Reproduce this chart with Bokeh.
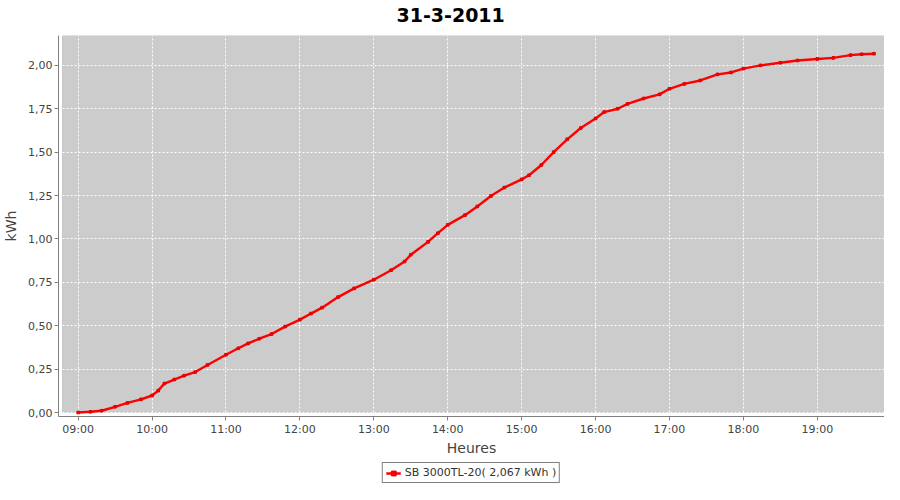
import pandas as pd
from bokeh.plotting import figure
from bokeh.layouts import column
from bokeh.models import (FixedTicker, DatetimeTickFormatter, BoxAnnotation, Legend,
                          LegendItem, Range1d, ColumnDataSource, Title)
from bokeh.embed import file_html
from bokeh.resources import INLINE

title_text = "31-3-2011"
x_label = "Heures"
y_label = "kWh"
series_name = "SB 3000TL-20( 2,067 kWh )"
day = "2011-03-31"

times = ["09:00", "09:10", "09:19", "09:30", "09:40", "09:51", "10:00", "10:05", "10:10",
         "10:18", "10:26", "10:35", "10:45", "11:00", "11:10", "11:18", "11:27", "11:37",
         "11:48", "12:00", "12:09", "12:18", "12:31", "12:44", "13:00", "13:14", "13:25",
         "13:30", "13:44", "13:52", "14:00", "14:14", "14:24", "14:35", "14:46", "15:00",
         "15:06", "15:16", "15:26", "15:37", "15:48", "16:00", "16:07", "16:18", "16:26",
         "16:39", "16:52", "17:00", "17:12", "17:25", "17:39", "17:50", "18:00", "18:14",
         "18:30", "18:44", "19:00", "19:13", "19:27", "19:36", "19:46"]
kwh = [0.000, 0.004, 0.010, 0.033, 0.055, 0.076, 0.098, 0.126, 0.167,
       0.190, 0.212, 0.233, 0.274, 0.333, 0.370, 0.398, 0.425, 0.452,
       0.495, 0.535, 0.570, 0.604, 0.665, 0.715, 0.765, 0.820, 0.870,
       0.909, 0.983, 1.033, 1.081, 1.137, 1.187, 1.247, 1.296, 1.343,
       1.367, 1.426, 1.500, 1.574, 1.639, 1.694, 1.731, 1.750, 1.778,
       1.809, 1.833, 1.865, 1.893, 1.913, 1.948, 1.959, 1.981, 2.000,
       2.015, 2.028, 2.037, 2.043, 2.059, 2.064, 2.067]

y_ticks = [0.0, 0.25, 0.5, 0.75, 1.0, 1.25, 1.5, 1.75, 2.0]
y_tick_labels = ["0,00", "0,25", "0,50", "0,75", "1,00", "1,25", "1,50", "1,75", "2,00"]
x_tick_labels = ["09:00", "10:00", "11:00", "12:00", "13:00", "14:00", "15:00", "16:00",
                 "17:00", "18:00", "19:00"]


def ms(s):
    return pd.Timestamp(f"{day} {s}").value / 1e6


x_ms = [ms(s) for s in times]
x_ticks = [ms(s) for s in x_tick_labels]

x_start = ms("08:44:02")
x_area_left = ms("08:47:17")
x_end = ms("19:54:33")
y_start = -0.023
y_end = 2.172

FONT = "DejaVu Sans"
LINE_COLOR = "#FF0000"

p = figure(width=884, height=458, output_backend="svg", toolbar_location=None,
           x_axis_type="datetime",
           x_range=Range1d(x_start, x_end), y_range=Range1d(y_start, y_end),
           min_border_left=49, min_border_right=0, min_border_top=0, min_border_bottom=0,
           background_fill_color="white", border_fill_color="white")
p.outline_line_color = None

area = BoxAnnotation(left=x_area_left, right=x_end, bottom=0, top=y_end,
                     fill_color="#CCCCCC", fill_alpha=1.0,
                     line_color="#808080", line_width=1, level="image")
p.add_layout(area)

src = ColumnDataSource(data=dict(x=x_ms, y=kwh))
p.line("x", "y", source=src, line_color=LINE_COLOR, line_width=2.4)
p.scatter("x", "y", source=src, marker="square", size=2.6,
          fill_color=LINE_COLOR, line_color="#E00000")

# Title: a blank spacer next to the frame, then the real title above it
p.title = None
p.add_layout(Title(text=" ", text_font=FONT, text_font_size="6px", standoff=0), "above")
p.add_layout(Title(text=title_text, align="left", offset=338, text_font=FONT,
                   text_font_size="19px", text_font_style="bold", text_color="#000000"),
             "above")

# Grids
for g in (p.xgrid, p.ygrid):
    g.grid_line_color = "white"
    g.grid_line_dash = "2 2"
    g.grid_line_width = 1
p.xgrid.ticker = FixedTicker(ticks=x_ticks)
p.ygrid.ticker = FixedTicker(ticks=y_ticks)

# Axes
p.xaxis.ticker = FixedTicker(ticks=x_ticks)
p.xaxis.formatter = DatetimeTickFormatter(hours="%H:%M", minutes="%H:%M", hourmin="%H:%M",
                                          days="%H:%M", minsec="%H:%M", seconds="%H:%M")
p.yaxis.ticker = FixedTicker(ticks=y_ticks)
p.yaxis.major_label_overrides = dict(zip(y_ticks, y_tick_labels))
p.xaxis.axis_label = x_label
p.yaxis.axis_label = y_label

for ax in (p.xaxis, p.yaxis):
    ax.axis_line_color = "#808080"
    ax.major_tick_line_color = "#808080"
    ax.minor_tick_line_color = None
    ax.major_tick_out = 4
    ax.major_tick_in = 0
    ax.major_label_standoff = 2
    ax.major_label_text_font = FONT
    ax.major_label_text_font_size = "11px"
    ax.major_label_text_color = "#444444"
    ax.axis_label_text_font = FONT
    ax.axis_label_text_font_size = "14px"
    ax.axis_label_text_font_style = "normal"
    ax.axis_label_text_color = "#444444"
p.xaxis.axis_label_standoff = 1
p.yaxis.axis_label_standoff = 6

# Legend strip below the chart (its renderers reuse the series data, which lies
# outside this strip's ranges, so only the legend box is visible)
lg = figure(width=884, height=26, output_backend="svg", toolbar_location=None,
            x_range=Range1d(0, 1), y_range=Range1d(0, 1),
            min_border_left=0, min_border_right=0, min_border_top=0, min_border_bottom=0,
            background_fill_color="white", border_fill_color="white")
lg.outline_line_color = None
lg.axis.visible = False
lg.grid.visible = False
lg_ln = lg.line("x", "y", source=src, line_color=LINE_COLOR, line_width=2.4)
lg_mk = lg.scatter("x", "y", source=src, marker="square", size=2.6,
                   fill_color=LINE_COLOR, line_color="#E00000")
legend = Legend(items=[LegendItem(label=series_name, renderers=[lg_ln, lg_mk])],
                location="bottom_center", orientation="horizontal",
                border_line_color="black", border_line_width=1,
                background_fill_color="white", background_fill_alpha=1.0,
                label_text_font=FONT, label_text_font_size="11px",
                label_text_color="#333333",
                glyph_width=15, glyph_height=12, label_height=12,
                padding=3, spacing=0, margin=1, label_standoff=4)
lg.add_layout(legend)

layout = column(p, lg, spacing=0)
open("out.html", "w").write(file_html(layout, INLINE))
